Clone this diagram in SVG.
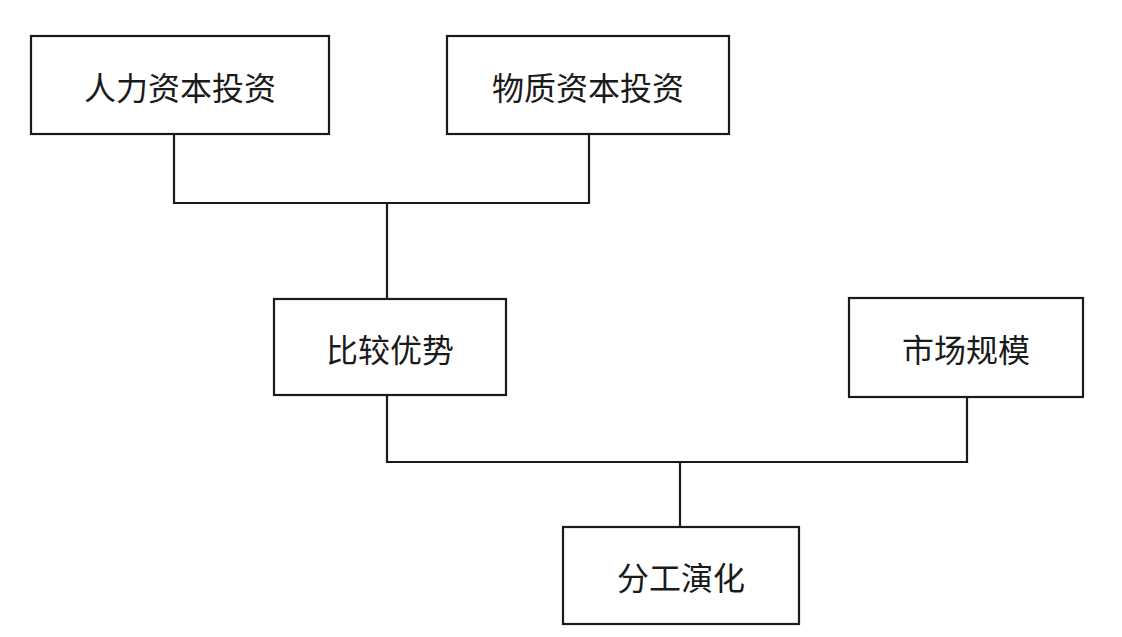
<svg xmlns="http://www.w3.org/2000/svg" width="1122" height="637" viewBox="0 0 1122 637">
<style>
.box{fill:#fff;stroke:#1a1a1a;stroke-width:2.2}
.lbl{font-family:"Noto Sans CJK SC","Noto Sans",sans-serif;font-size:32px;fill:#1a1a1a;text-anchor:middle;dominant-baseline:central}
.con{fill:none;stroke:#1a1a1a;stroke-width:2.2}
</style>
<rect width="1122" height="637" fill="#fff"/>
<g id="connectors">
<polyline class="con" points="174,135 174,203 589,203 589,135"/>
<line class="con" x1="387" y1="203" x2="387" y2="299"/>
<polyline class="con" points="387,395 387,462 967,462 967,397"/>
<line class="con" x1="680" y1="462" x2="680" y2="527"/>
</g>
<g id="n1"><rect class="box" x="31" y="36" width="298" height="98"/><text class="lbl" x="180" y="86">人力资本投资</text></g>
<g id="n2"><rect class="box" x="447" y="36" width="282" height="98"/><text class="lbl" x="588" y="86">物质资本投资</text></g>
<g id="n3"><rect class="box" x="274" y="299" width="232" height="96"/><text class="lbl" x="390" y="348">比较优势</text></g>
<g id="n4"><rect class="box" x="849" y="298" width="234" height="99"/><text class="lbl" x="966" y="348">市场规模</text></g>
<g id="n5"><rect class="box" x="563" y="527" width="236" height="97"/><text class="lbl" x="681" y="576">分工演化</text></g>
</svg>
